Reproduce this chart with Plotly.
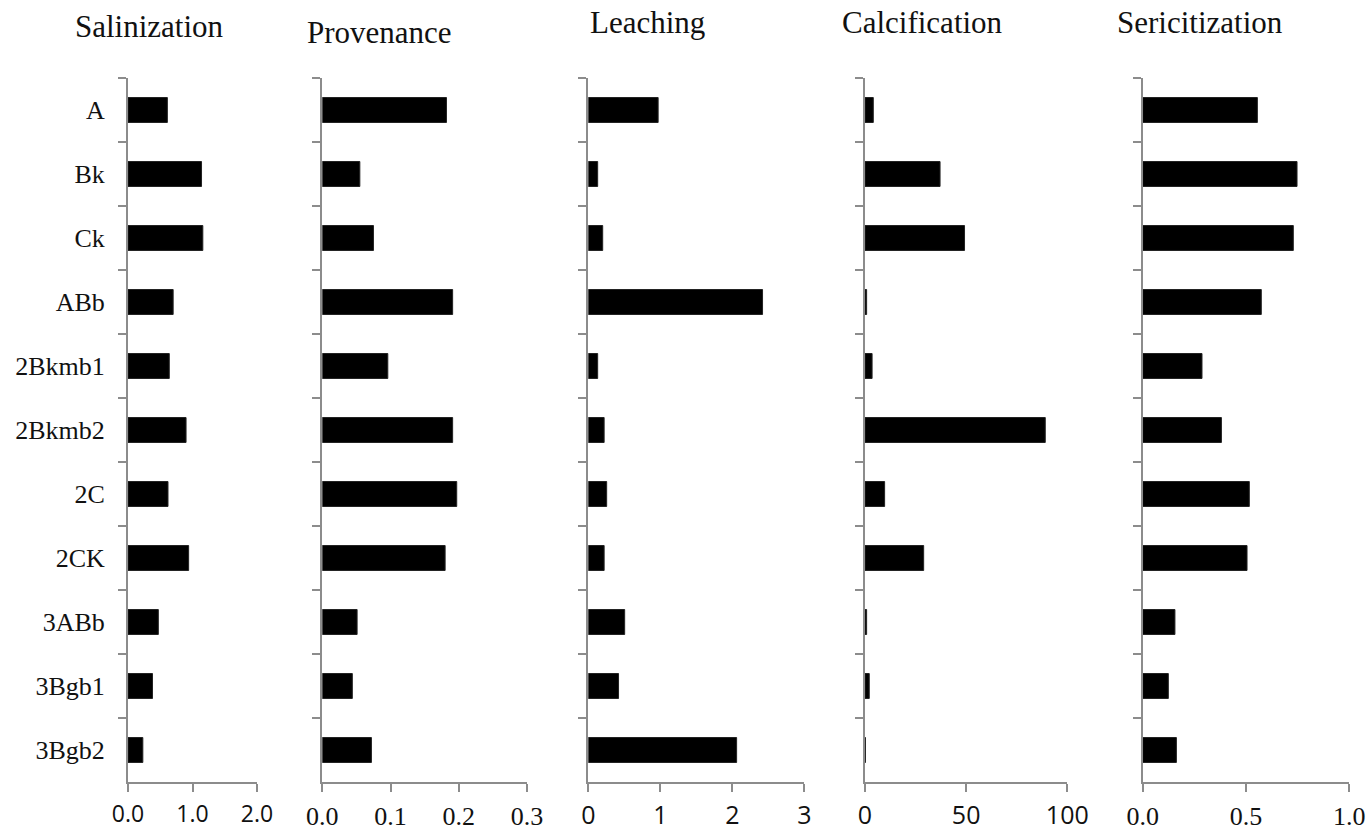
import plotly.graph_objects as go

categories = ["A", "Bk", "Ck", "ABb", "2Bkmb1", "2Bkmb2", "2C", "2CK", "3ABb", "3Bgb1", "3Bgb2"]

salinization = [0.61, 1.14, 1.16, 0.70, 0.64, 0.90, 0.62, 0.94, 0.47, 0.38, 0.23]
provenance = [0.182, 0.055, 0.075, 0.191, 0.096, 0.191, 0.197, 0.180, 0.051, 0.044, 0.072]
leaching = [0.97, 0.13, 0.20, 2.42, 0.13, 0.22, 0.255, 0.22, 0.505, 0.42, 2.06]
calcification = [4.1, 37.1, 49.2, 0.8, 3.5, 89.1, 9.7, 29.0, 0.8, 2.1, 0.2]
sericitization = [0.555, 0.747, 0.729, 0.574, 0.287, 0.381, 0.516, 0.505, 0.156, 0.124, 0.163]

titles = ["Salinization", "Provenance", "Leaching", "Calcification", "Sericitization"]
series = [salinization, provenance, leaching, calcification, sericitization]
x_ranges = [[0, 2], [0, 0.3], [0, 3], [0, 100], [0, 1]]
x_dticks = [1, 0.1, 1, 50, 0.5]
x_formats = [".1f", ".1f", "d", "d", ".1f"]

W, H = 1371, 835
# pixel layout
x_px = [(128, 257), (322.3, 527), (588.3, 804.3), (865, 1067.3), (1142.7, 1349.3)]
y_top, y_bot = 78, 782
title_pos = [(73, 26), (305, 32), (588, 22), (840, 22), (1115, 22)]
tick_fonts = [
    dict(family="Open Sans", size=23, color="#111"),
    dict(family="Liberation Serif", size=26, color="#111"),
    dict(family="Open Sans", size=25, color="#111"),
    dict(family="Open Sans", size=25, color="#111"),
    dict(family="Liberation Serif", size=26, color="#111"),
]

axis_gray = "#8c8c8c"
fig = go.Figure()
layout = dict(
    width=W, height=H,
    margin=dict(l=0, r=0, t=0, b=0, autoexpand=False),
    paper_bgcolor="white", plot_bgcolor="white",
    showlegend=False, bargap=0.61,
    annotations=[],
)

ydom = [(H - y_bot) / H, (H - y_top) / H]
for i in range(5):
    sfx = "" if i == 0 else str(i + 1)
    fig.add_trace(go.Bar(
        x=series[i], y=categories, orientation="h",
        marker=dict(color="black", line=dict(color="#222", width=1)),
        xaxis="x" + sfx, yaxis="y" + sfx, hoverinfo="x+y",
    ))
    layout["xaxis" + sfx] = dict(
        domain=[x_px[i][0] / W, x_px[i][1] / W],
        anchor="y" + sfx, range=x_ranges[i], dtick=x_dticks[i], tick0=0,
        tickformat=x_formats[i], showgrid=False, zeroline=False,
        showline=True, linecolor=axis_gray, linewidth=2,
        ticks="outside", ticklen=8, tickwidth=1.5, tickcolor=axis_gray,
        tickfont=tick_fonts[i], ticklabelstandoff=2,
        fixedrange=True, automargin=False,
    )
    layout["yaxis" + sfx] = dict(
        domain=ydom, anchor="x" + sfx, type="category",
        categoryorder="array", categoryarray=categories, autorange="reversed",
        showgrid=False, zeroline=False,
        showline=True, linecolor=axis_gray, linewidth=2,
        ticks="outside", ticklen=8, tickwidth=1.5, tickcolor=axis_gray,
        tickson="boundaries", showticklabels=(i == 0),
        tickfont=dict(family="Liberation Serif", size=26, color="#111"),
        ticklabelstandoff=16, fixedrange=True, automargin=False,
    )
    layout["annotations"].append(dict(
        text=titles[i], xref="paper", yref="paper",
        x=title_pos[i][0] / W, y=1 - title_pos[i][1] / H,
        xanchor="left", yanchor="middle", showarrow=False,
        font=dict(family="Liberation Serif", size=31, color="#111"),
    ))

fig.update_layout(**layout)
fig.write_html("out.html")
